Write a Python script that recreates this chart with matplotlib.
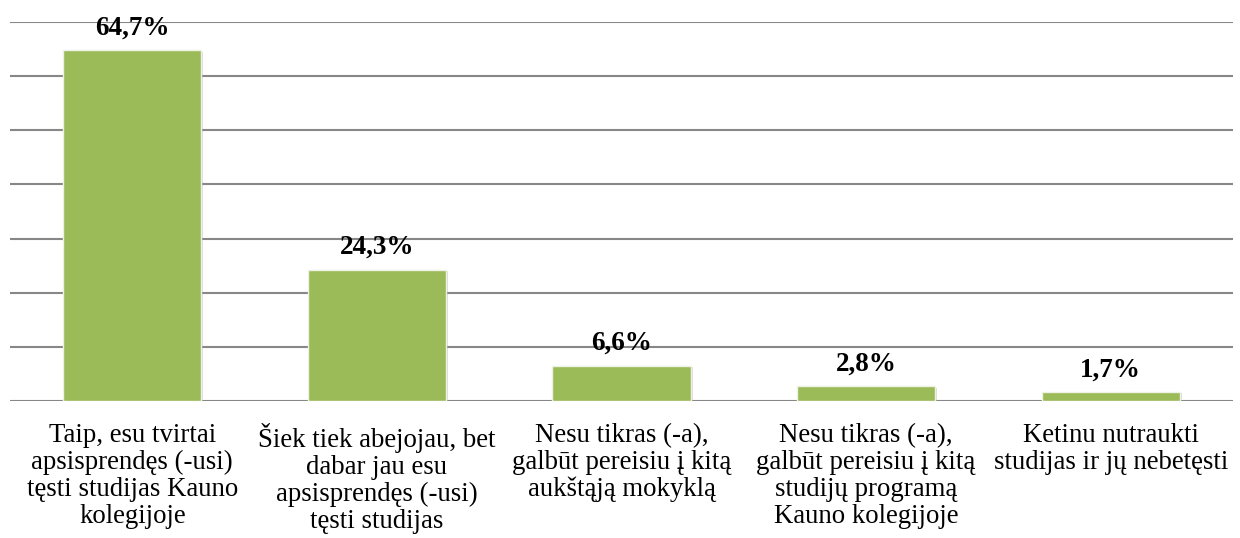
import matplotlib
matplotlib.use("Agg")
import matplotlib.pyplot as plt
import matplotlib.patheffects as pe
import numpy as np

categories = [
    "Taip, esu tvirtai\napsisprendęs (-usi)\ntęsti studijas Kauno\nkolegijoje",
    "Šiek tiek abejojau, bet\ndabar jau esu\napsisprendęs (-usi)\ntęsti studijas",
    "Nesu tikras (-a),\ngalbūt pereisiu į kitą\naukštąją mokyklą",
    "Nesu tikras (-a),\ngalbūt pereisiu į kitą\nstudijų programą\nKauno kolegijoje",
    "Ketinu nutraukti\nstudijas ir jų nebetęsti",
]
values = [64.7, 24.3, 6.6, 2.8, 1.7]
value_labels = ["64,7%", "24,3%", "6,6%", "2,8%", "1,7%"]

plt.rcParams['font.family'] = ['Liberation Serif', 'DejaVu Serif']

fig = plt.figure(figsize=(12.4, 5.38), dpi=100)
ax = fig.add_axes([10/1240, 1 - 401.3/538, (1233 - 10)/1240, (401.3 - 21.7)/538])

x = np.arange(len(values))
bars = ax.bar(x, values, width=0.565, color="#9BBB59", edgecolor="#eef2e4",
              linewidth=1.0, zorder=3)
for b in bars:
    b.set_path_effects([pe.SimplePatchShadow(offset=(1.5, -1.0),
                                             shadow_rgbFace="#9a9a9a", alpha=0.35),
                        pe.Normal()])

ax.set_ylim(0, 70)
ax.set_xlim(-0.5, len(values) - 0.5)
ax.set_yticks(np.arange(0, 71, 10))
ax.yaxis.grid(True, color="#878787", linewidth=1.5, zorder=0)
ax.tick_params(axis='y', left=False, labelleft=False)
ax.tick_params(axis='x', bottom=False, pad=12)
for s in ax.spines.values():
    s.set_visible(False)

ax.set_xticks(x)
ax.set_xticklabels(categories, fontsize=19.3, linespacing=1.1, va='top')

for xi, v, lab in zip(x, values, value_labels):
    ax.annotate(lab, (xi, v), xytext=(0, 7), textcoords='offset points',
                ha='center', va='bottom', fontsize=19.5, fontweight='bold',
                zorder=4)

fig.savefig("out.png", dpi=100, facecolor="white")
